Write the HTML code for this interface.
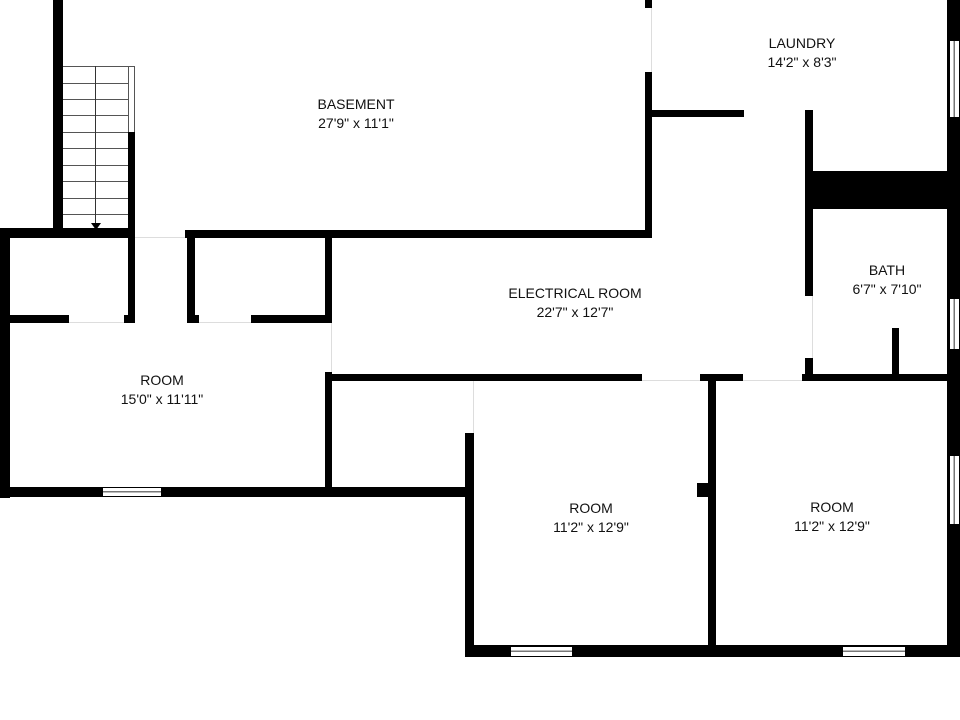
<!DOCTYPE html>
<html><head><style>
body{margin:0;width:960px;height:720px;background:#fff;position:relative;overflow:hidden;font-family:"Liberation Sans",sans-serif}
.w{position:absolute;background:#000}
.win{position:absolute;background:#fff;border:1px solid #000;box-sizing:border-box}
.h{background:linear-gradient(#fff 0,#fff 40%,#777 40%,#777 55%,#fff 55%)}
.v{background:linear-gradient(90deg,#fff 0,#fff 40%,#777 40%,#777 55%,#fff 55%)}
.t{position:absolute;text-align:center;font-size:14px;line-height:19px;color:#111;transform:translateX(-50%);white-space:nowrap}
.st{position:absolute;left:63px;width:65px;height:1px;background:#555}
.g{position:absolute;background:#ddd}
</style></head><body>
<div class="w" style="left:53px;top:0;width:10px;height:236px"></div>
<div class="w" style="left:0;top:228px;width:135px;height:10px"></div>
<div class="w" style="left:185px;top:230px;width:467px;height:8px"></div>
<div class="g" style="left:135px;top:237px;width:50px;height:1px"></div>
<div class="w" style="left:645px;top:0;width:7px;height:8px"></div>
<div class="g" style="left:651px;top:8px;width:1px;height:64px"></div>
<div class="w" style="left:645px;top:72px;width:7px;height:166px"></div>
<div class="w" style="left:652px;top:110px;width:92px;height:7px"></div>
<div style="position:absolute;left:63px;top:66px;width:65px;height:1px;background:#555"></div>
<div class="st" style="top:83px"></div><div class="st" style="top:99px"></div><div class="st" style="top:115px"></div><div class="st" style="top:132px"></div><div class="st" style="top:148px"></div><div class="st" style="top:165px"></div><div class="st" style="top:181px"></div><div class="st" style="top:198px"></div><div class="st" style="top:214px"></div>
<div style="position:absolute;left:95px;top:66px;width:1px;height:158px;background:#333"></div>
<div style="position:absolute;left:91px;top:223px;border-left:5px solid transparent;border-right:5px solid transparent;border-top:7px solid #000"></div>
<div class="win" style="left:128px;top:66px;width:7px;height:67px;border-color:#555"></div>
<div class="w" style="left:128px;top:132px;width:7px;height:100px"></div>
<div class="w" style="left:0;top:228px;width:10px;height:270px"></div>
<div class="w" style="left:128px;top:230px;width:7px;height:93px"></div>
<div class="w" style="left:10px;top:315px;width:59px;height:8px"></div>
<div class="g" style="left:69px;top:322px;width:55px;height:1px"></div>
<div class="w" style="left:124px;top:315px;width:11px;height:8px"></div>
<div class="w" style="left:187px;top:230px;width:8px;height:93px"></div>
<div class="w" style="left:187px;top:315px;width:12px;height:8px"></div>
<div class="g" style="left:199px;top:322px;width:52px;height:1px"></div>
<div class="w" style="left:251px;top:315px;width:81px;height:8px"></div>
<div class="w" style="left:325px;top:230px;width:7px;height:93px"></div>
<div class="g" style="left:331px;top:323px;width:1px;height:50px"></div>
<div class="w" style="left:325px;top:372px;width:7px;height:124px"></div>
<div class="w" style="left:0;top:487px;width:474px;height:10px"></div>
<div class="win h" style="left:102px;top:487px;width:60px;height:10px"></div>
<div class="w" style="left:330px;top:374px;width:312px;height:7px"></div>
<div class="g" style="left:642px;top:380px;width:58px;height:1px"></div>
<div class="w" style="left:700px;top:374px;width:43px;height:7px"></div>
<div class="g" style="left:743px;top:380px;width:59px;height:1px"></div>
<div class="w" style="left:802px;top:374px;width:158px;height:7px"></div>
<div class="w" style="left:805px;top:110px;width:8px;height:186px"></div>
<div class="g" style="left:812px;top:296px;width:1px;height:62px"></div>
<div class="w" style="left:805px;top:358px;width:8px;height:20px"></div>
<div class="w" style="left:805px;top:171px;width:142px;height:38px"></div>
<div class="w" style="left:892px;top:328px;width:7px;height:50px"></div>
<div class="w" style="left:947px;top:0;width:13px;height:657px"></div>
<div class="win v" style="left:949px;top:40px;width:11px;height:78px"></div>
<div class="win v" style="left:949px;top:298px;width:11px;height:52px"></div>
<div class="win v" style="left:949px;top:455px;width:11px;height:70px"></div>
<div class="g" style="left:473px;top:381px;width:1px;height:52px"></div>
<div class="w" style="left:465px;top:433px;width:9px;height:224px"></div>
<div class="w" style="left:465px;top:645px;width:495px;height:12px"></div>
<div class="win h" style="left:510px;top:646px;width:63px;height:11px"></div>
<div class="win h" style="left:842px;top:646px;width:64px;height:11px"></div>
<div class="w" style="left:708px;top:374px;width:8px;height:272px"></div>
<div class="w" style="left:697px;top:483px;width:12px;height:14px"></div>
<div class="t" style="left:356px;top:95px">BASEMENT<br>27'9" x 11'1"</div>
<div class="t" style="left:802px;top:34px">LAUNDRY<br>14'2" x 8'3"</div>
<div class="t" style="left:575px;top:284px">ELECTRICAL ROOM<br>22'7" x 12'7"</div>
<div class="t" style="left:887px;top:261px">BATH<br>6'7" x 7'10"</div>
<div class="t" style="left:162px;top:371px">ROOM<br>15'0" x 11'11"</div>
<div class="t" style="left:591px;top:499px">ROOM<br>11'2" x 12'9"</div>
<div class="t" style="left:832px;top:498px">ROOM<br>11'2" x 12'9"</div>
</body></html>
